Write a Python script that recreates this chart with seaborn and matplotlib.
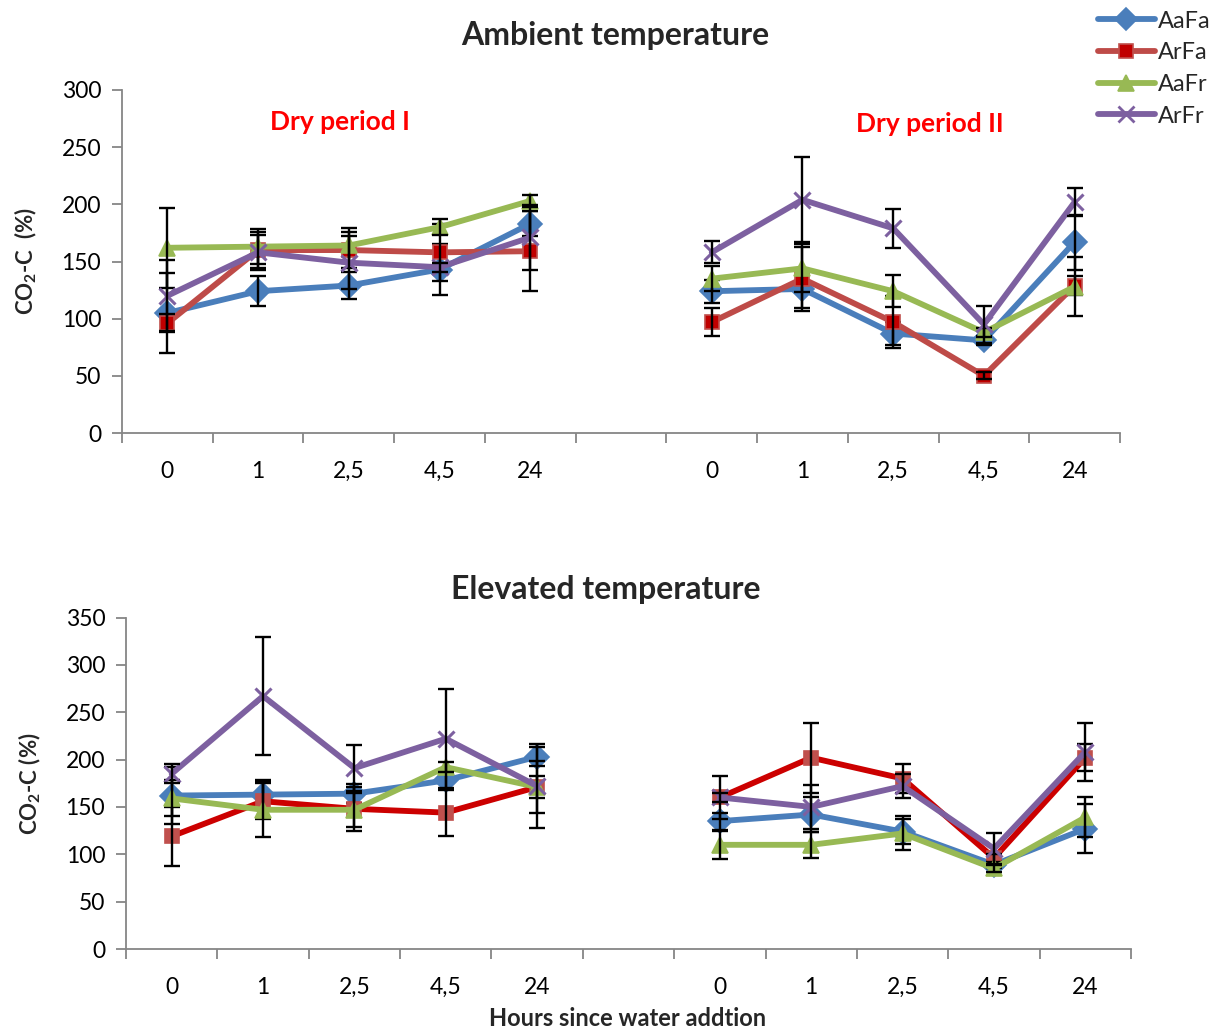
import numpy as np
import pandas as pd
import matplotlib
matplotlib.use("Agg")
import matplotlib.pyplot as plt
from matplotlib.lines import Line2D
from matplotlib.ticker import FixedLocator, NullFormatter
import seaborn as sns

sns.set_style("white")
plt.rcParams["font.family"] = ["Lato", "DejaVu Sans"]
plt.rcParams["mathtext.fontset"] = "custom"
plt.rcParams["mathtext.rm"] = "Lato:bold"
plt.rcParams["mathtext.bf"] = "Lato:bold"

# Sampling times (hours since water addition), shown twice: dry period I and II
hours = ["0", "1", "2,5", "4,5", "24"]
treatments = ["AaFa", "ArFa", "AaFr", "ArFr"]

# Ambient temperature: means for period I + period II
amb_AaFa = [105, 124, 129, 143, 183, 124, 126, 87, 81, 167]
amb_ArFa = [96, 160, 160, 158, 159, 97, 135, 97, 50, 129]
amb_AaFr = [162, 163, 164, 180, 203, 135, 144, 124, 88, 128]
amb_ArFr = [120, 158, 149, 145, 171, 158, 204, 179, 95, 202]
# Ambient temperature: standard errors
amb_AaFa_err = [35, 13, 12, 22, 11, 10, 17, 10, 4, 24]
amb_ArFa_err = [8, 16, 16, 25, 35, 12, 28, 23, 3, 8]
amb_AaFr_err = [35, 15, 15, 7, 5, 11, 21, 14, 4, 26]
amb_ArFr_err = [31, 15, 23, 4, 28, 9.5, 37, 17, 16, 12.5]

# Elevated temperature: means for period I + period II
ele_AaFa = [162, 163, 164, 178, 203, 135, 142, 124, 89, 127]
ele_ArFa = [119, 156, 148, 144, 171, 160, 202, 180, 96, 202]
ele_AaFr = [159, 147, 147, 192, 171, 110, 110, 122, 85, 139]
ele_ArFr = [185, 267, 191, 222, 172, 160, 150, 172, 106, 208]
# Elevated temperature: standard errors
ele_AaFa_err = [30, 15, 10, 10, 10, 9, 18, 13, 4, 26]
ele_ArFa_err = [31, 19, 23, 25, 12, 23, 37, 15, 4, 14]
ele_AaFr_err = [19, 29, 18, 5, 27, 15, 14, 18, 4, 21]
ele_ArFr_err = [10, 62, 24, 52, 44, 5, 23, 13, 16, 31]

panels = [
    ("Ambient temperature",
     [amb_AaFa, amb_ArFa, amb_AaFr, amb_ArFr],
     [amb_AaFa_err, amb_ArFa_err, amb_AaFr_err, amb_ArFr_err]),
    ("Elevated temperature",
     [ele_AaFa, ele_ArFa, ele_AaFr, ele_ArFr],
     [ele_AaFa_err, ele_ArFa_err, ele_AaFr_err, ele_ArFr_err]),
]

# category slots: 5 for period I, one empty slot, 5 for period II
slots = list(range(5)) + list(range(6, 11))
periods = ["I"] * 5 + ["II"] * 5
slot_labels = hours + [""] + hours


def long_frame(means, errs):
    rows = []
    for t, m, e in zip(treatments, means, errs):
        for s, p, v, er in zip(slots, periods, m, e):
            rows.append({"treatment": t, "slot": s, "period": p, "value": v, "err": er})
    return pd.DataFrame(rows)


markers = {"AaFa": "D", "ArFa": "s", "AaFr": "^", "ArFr": "x"}
msize = {"AaFa": 12, "ArFa": 10.5, "AaFr": 12, "ArFr": 12}
styles_top = {
    "AaFa": dict(line="#4A7EBB", face="#4A7EBB", edge="#4A7EBB"),
    "ArFa": dict(line="#BE4B48", face="#C00000", edge="#C0504D"),
    "AaFr": dict(line="#98B954", face="#98B954", edge="#98B954"),
    "ArFr": dict(line="#7D60A0", face="#7D60A0", edge="#7D60A0"),
}
styles_bottom = dict(styles_top)
styles_bottom["ArFa"] = dict(line="#CC0000", face="#C0504D", edge="#C0504D")

fig = plt.figure(figsize=(12.2, 10.29), dpi=100)
ax_top = fig.add_axes([122 / 1220, 1 - 433 / 1029, 998 / 1220, 343 / 1029])
ax_bot = fig.add_axes([126 / 1220, 1 - 949 / 1029, 1005 / 1220, 331.5 / 1029])

spine_col = "#868686"
for ax, (title, means, errs), styles, ymax in [
    (ax_top, panels[0], styles_top, 300),
    (ax_bot, panels[1], styles_bottom, 350),
]:
    df = long_frame(means, errs)
    for t in treatments:
        sub = df[df.treatment == t]
        st = styles[t]
        sns.lineplot(
            data=sub, x="slot", y="value", units="period", estimator=None,
            color=st["line"], lw=4.2, marker=markers[t], markersize=msize[t],
            markerfacecolor=st["face"], markeredgecolor=st["edge"],
            markeredgewidth=2.2 if t == "ArFr" else 1.2,
            sort=False, ax=ax, legend=False,
        )
        ax.errorbar(sub["slot"], sub["value"], yerr=sub["err"], fmt="none",
                    ecolor="black", elinewidth=1.7, capsize=5.5, capthick=1.7)

    ax.set_xlim(-0.5, 10.5)
    ax.set_ylim(0, ymax)
    ax.set_yticks(np.arange(0, ymax + 1, 50))
    ax.set_xticks(range(11))
    ax.set_xticklabels(slot_labels)
    ax.xaxis.set_minor_locator(FixedLocator(np.arange(-0.5, 11, 1)))
    ax.xaxis.set_minor_formatter(NullFormatter())
    ax.tick_params(axis="x", which="major", length=0, pad=20, labelsize=16.5, labelcolor="black")
    ax.tick_params(axis="x", which="minor", length=7, width=1.3, color=spine_col, direction="out", bottom=True)
    ax.tick_params(axis="y", length=7, width=1.3, color=spine_col, direction="out", left=True,
                   labelsize=16.5, pad=8, labelcolor="black")
    for side in ["top", "right"]:
        ax.spines[side].set_visible(False)
    for side in ["left", "bottom"]:
        ax.spines[side].set_color(spine_col)
        ax.spines[side].set_linewidth(1.3)
    ax.set_xlabel("")

fig.text(615 / 1220, 1 - 36 / 1029, panels[0][0], fontsize=23, fontweight="bold", ha="center", va="center")
fig.text(606 / 1220, 1 - 590 / 1029, panels[1][0], fontsize=23, fontweight="bold", ha="center", va="center")

ax_top.set_ylabel(r"CO$_\mathbf{2}$-C  (%)", fontsize=16, fontweight="bold", labelpad=16)
ax_bot.set_ylabel(r"CO$_\mathbf{2}$-C (%)", fontsize=16, fontweight="bold", labelpad=16)

ax_top.text(1.9, 272, "Dry period I", color="#FF0000", fontsize=19, fontweight="bold", ha="center", va="center")
ax_top.text(8.4, 270, "Dry period II", color="#FF0000", fontsize=19, fontweight="bold", ha="center", va="center")

fig.text(628 / 1220, 1 - 1018 / 1029, "Hours since water addtion", fontsize=17, fontweight="bold", ha="center", va="center")

handles = [
    Line2D([], [], color=styles_top[t]["line"], lw=4.2, marker=markers[t], markersize=msize[t] - 1,
           markerfacecolor=styles_top[t]["face"], markeredgecolor=styles_top[t]["edge"],
           markeredgewidth=2 if t == "ArFr" else 1.2)
    for t in treatments
]
fig.legend(handles, treatments, loc="upper right", bbox_to_anchor=(1.008, 1.008), frameon=False,
           fontsize=17, handlelength=2.4, handletextpad=0.15, labelspacing=0.45, borderpad=0.3)

fig.savefig("out.png", dpi=100)
